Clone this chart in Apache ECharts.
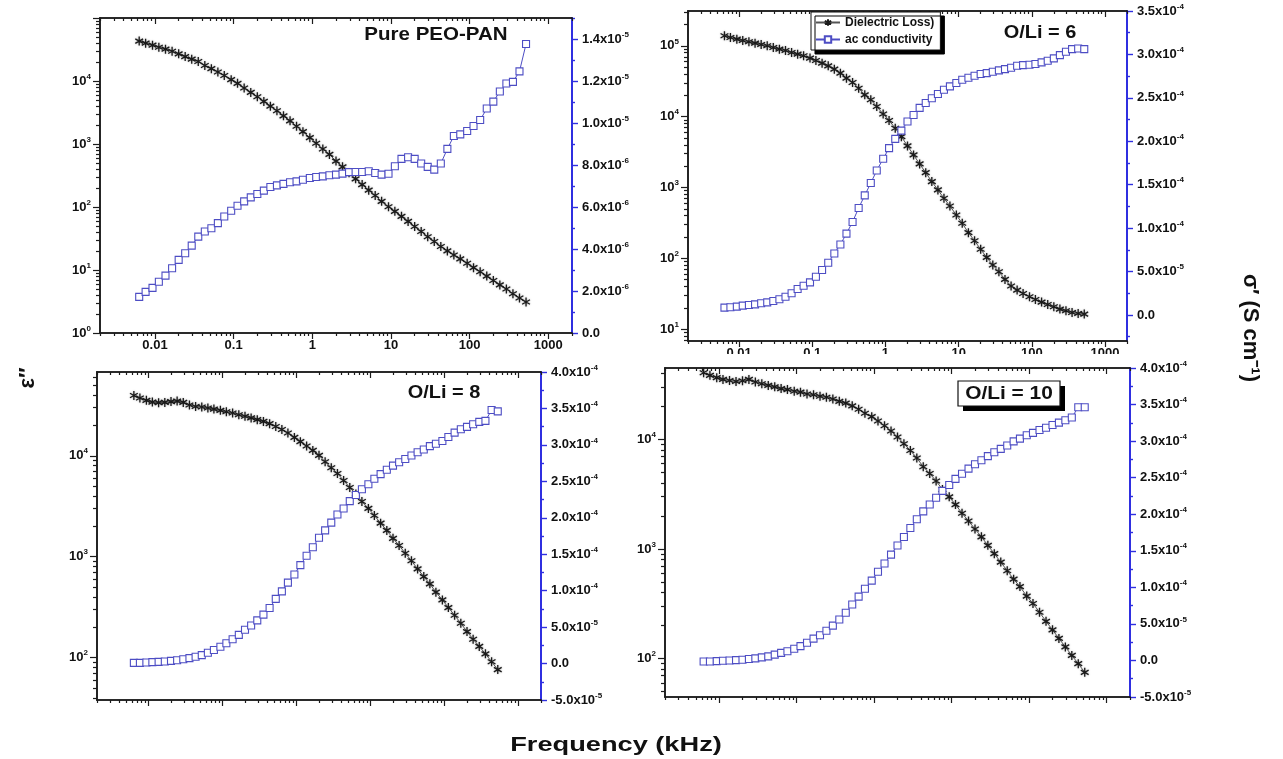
<!DOCTYPE html>
<html>
<head>
<meta charset="utf-8">
<title>Dielectric loss and ac conductivity vs frequency</title>
<script src="https://cdn.jsdelivr.net/npm/echarts@6/dist/echarts.min.js"></script>
<style>
  html, body { margin: 0; padding: 0; background: #fff; }
  #chart { width: 1283px; height: 759px; }
</style>
</head>
<body>
<div id="chart"></div>
<script>
// frequency in kHz, same sweep for all four samples
var freqKHz = [
  0.0063, 0.0076, 0.0093, 0.0112, 0.0136, 0.0165, 0.0200, 0.0242, 0.0293, 0.0355, 0.0430, 0.0521,
  0.063, 0.076, 0.093, 0.112, 0.136, 0.165, 0.200, 0.242, 0.293, 0.355, 0.430, 0.521,
  0.63, 0.76, 0.93, 1.12, 1.36, 1.65, 2.00, 2.42, 2.93, 3.55, 4.30, 5.21,
  6.3, 7.6, 9.3, 11.2, 13.6, 16.5, 20.0, 24.2, 29.3, 35.5, 43.0, 52.1,
  63, 76, 93, 112, 136, 165, 200, 242, 293, 355, 430, 521
];
var xTickValues = [0.01, 0.1, 1, 10, 100, 1000];

// Pure PEO-PAN
var pureLoss = [43000, 39900, 37100, 34400, 32000, 29700, 27000, 24400, 22200, 20400,
  17600, 15700, 13900, 12200, 10500, 9180, 7730, 6590, 5620, 4740,
  3990, 3370, 2800, 2330, 1910, 1570, 1260, 1030, 832, 684,
  536, 434, 349, 280, 227, 185, 152, 123, 101, 85.3,
  71.0, 59.0, 49.1, 40.9, 33.7, 28.3, 23.6, 20.1, 17.3, 15.0,
  12.8, 10.9, 9.4, 8.0, 6.8, 5.8, 5.0, 4.2, 3.6, 3.1];
var pureSigma = [1.72e-6, 1.96e-6, 2.15e-6, 2.44e-6, 2.73e-6, 3.08e-6, 3.48e-6, 3.80e-6, 4.16e-6, 4.59e-6,
  4.83e-6, 4.99e-6, 5.23e-6, 5.55e-6, 5.82e-6, 6.06e-6, 6.27e-6, 6.46e-6, 6.62e-6, 6.78e-6,
  6.95e-6, 7.03e-6, 7.10e-6, 7.18e-6, 7.22e-6, 7.30e-6, 7.38e-6, 7.43e-6, 7.46e-6, 7.51e-6,
  7.54e-6, 7.59e-6, 7.66e-6, 7.67e-6, 7.67e-6, 7.70e-6, 7.62e-6, 7.54e-6, 7.58e-6, 7.94e-6,
  8.29e-6, 8.37e-6, 8.29e-6, 8.07e-6, 7.91e-6, 7.78e-6, 8.07e-6, 8.77e-6, 9.38e-6, 9.46e-6,
  9.62e-6, 9.86e-6, 10.14e-6, 10.69e-6, 11.02e-6, 11.50e-6, 11.88e-6, 11.96e-6, 12.46e-6, 13.76e-6];

// O/Li = 6
var li6Loss = [138400, 131200, 124200, 118900, 114000, 109100, 104500, 100000, 94600, 89700,
  85900, 80500, 76200, 72300, 67000, 62100, 56900, 52100, 46800, 41100,
  34900, 30300, 25200, 20300, 17300, 13900, 10900, 8810, 6850, 5220,
  3860, 2880, 2150, 1620, 1210, 923, 703, 548, 408, 312,
  230, 177, 134, 103, 80.4, 64.6, 50.4, 40.6, 35.6, 31.9,
  28.6, 26.2, 24.1, 22.3, 20.7, 19.2, 18.2, 17.2, 16.6, 16.3];
var li6Sigma = [8.4e-6, 8.8e-6, 9.6e-6, 10.7e-6, 11.5e-6, 12.2e-6, 13.4e-6, 14.5e-6, 16.1e-6, 18.0e-6,
  21.0e-6, 24.9e-6, 29.8e-6, 33.7e-6, 37.5e-6, 44.0e-6, 51.7e-6, 60.1e-6, 70.8e-6, 81.1e-6,
  93.7e-6, 107.1e-6, 123.2e-6, 137.7e-6, 151.9e-6, 166.4e-6, 179.8e-6, 192.1e-6, 202.8e-6, 212.3e-6,
  222.7e-6, 230.3e-6, 238.4e-6, 244.1e-6, 249.5e-6, 254.4e-6, 259.4e-6, 263.2e-6, 267.1e-6, 270.9e-6,
  273.2e-6, 275.5e-6, 277.4e-6, 278.5e-6, 280.1e-6, 281.6e-6, 283.1e-6, 284.7e-6, 287.0e-6, 287.7e-6,
  288.1e-6, 288.9e-6, 290.8e-6, 292.7e-6, 295.4e-6, 299.2e-6, 303.0e-6, 306.1e-6, 306.8e-6, 306.1e-6];

// O/Li = 8
var li8Loss = [39600, 37300, 35400, 34000, 33600, 33800, 34400, 34800, 33800, 31800,
  30800, 30400, 29700, 29000, 28200, 27300, 26500, 25500, 24600, 23700,
  22800, 21900, 20800, 19500, 18200, 16800, 15200, 13800, 12500, 11300,
  10100, 8710, 7600, 6680, 5690, 4850, 4170, 3520, 3010, 2560,
  2150, 1820, 1520, 1290, 1080, 910, 757, 635, 538, 445,
  373, 313, 263, 219, 181, 152, 129, 109, 91, 76];
var li8Sigma = [0.9e-6, 0.9e-6, 1.4e-6, 1.9e-6, 2.3e-6, 2.8e-6, 3.7e-6, 4.6e-6, 6.0e-6, 7.4e-6,
  9.3e-6, 11.6e-6, 14.8e-6, 18.5e-6, 23.1e-6, 27.8e-6, 33.3e-6, 39.3e-6, 46.3e-6, 52.3e-6,
  59.2e-6, 67.1e-6, 76.3e-6, 88.8e-6, 99.0e-6, 111.0e-6, 122.1e-6, 135.1e-6, 148.0e-6, 159.6e-6,
  172.5e-6, 182.7e-6, 193.3e-6, 204.4e-6, 212.8e-6, 222.9e-6, 231.3e-6, 239.1e-6, 246.1e-6, 253.5e-6,
  259.9e-6, 265.9e-6, 271.5e-6, 276.1e-6, 280.7e-6, 285.4e-6, 290.0e-6, 293.7e-6, 298.3e-6, 301.6e-6,
  305.3e-6, 310.8e-6, 316.8e-6, 321.4e-6, 324.7e-6, 328.4e-6, 331.6e-6, 333.0e-6, 347.8e-6, 346.0e-6];

// O/Li = 10
var li10Loss = [40500, 38300, 36500, 35200, 34400, 33700, 34200, 35200, 33300, 32100,
  31000, 30100, 29000, 28400, 27400, 26900, 25900, 25500, 24700, 24200,
  23300, 22200, 21400, 20200, 18800, 17300, 16100, 14700, 13300, 11900,
  10500, 9120, 7910, 6760, 5620, 4880, 4170, 3490, 2990, 2540,
  2120, 1800, 1520, 1290, 1080, 906, 759, 634, 531, 454,
  372, 318, 265, 219, 183, 153, 128, 107, 90, 75];
var li10Sigma = [-1.4e-6, -1.4e-6, -0.9e-6, -0.5e-6, 0, 0.5e-6, 0.9e-6, 1.9e-6, 2.8e-6, 4.2e-6,
  5.6e-6, 7.9e-6, 10.3e-6, 12.6e-6, 15.9e-6, 19.6e-6, 24.3e-6, 29.9e-6, 34.5e-6, 40.6e-6,
  47.6e-6, 56.0e-6, 65.3e-6, 76.5e-6, 87.3e-6, 98.0e-6, 109.2e-6, 121.3e-6, 132.5e-6, 144.7e-6,
  157.3e-6, 168.9e-6, 181.1e-6, 193.2e-6, 203.9e-6, 213.3e-6, 222.6e-6, 231.9e-6, 239.9e-6, 248.3e-6,
  255.3e-6, 262.3e-6, 268.4e-6, 273.9e-6, 279.5e-6, 284.7e-6, 289.4e-6, 294.0e-6, 299.6e-6, 303.4e-6,
  308.0e-6, 311.3e-6, 315.1e-6, 318.3e-6, 322.0e-6, 325.3e-6, 328.6e-6, 332.3e-6, 346.3e-6, 346.3e-6];

var LOSS_NAME = 'Dielectric Loss)';
var SIGMA_NAME = 'ac conductivity';

// layout of the four panels (pixel boxes + axis ranges)
var panels = [
  { loss: pureLoss, sigma: pureSigma, box: [100, 18, 472, 315], lossRange: [1, 1e5],
    sigmaRange: [0, 1.5e-5], sigmaStep: 2e-6, showX: true },
  { loss: li6Loss, sigma: li6Sigma, box: [688, 11, 439, 330], lossRange: [6.8, 3.1e5],
    sigmaRange: [-3e-5, 3.5e-4], sigmaStep: 5e-5, showX: true },
  { loss: li8Loss, sigma: li8Sigma, box: [97, 372, 444, 328], lossRange: [38, 67600],
    sigmaRange: [-5e-5, 4e-4], sigmaStep: 5e-5, showX: false },
  { loss: li10Loss, sigma: li10Sigma, box: [665, 368, 465, 329], lossRange: [44.7, 44700],
    sigmaRange: [-5e-5, 4e-4], sigmaStep: 5e-5, showX: false }
];

var FONT = '"Liberation Sans", Arial, sans-serif';
var AXIS_BLACK = '#1c1c1c';
var AXIS_BLUE = '#2f2fe0';
var SQ_BLUE = '#4d4dc4';
var X_MIN = 0.002, X_MAX = 2000;
var STAR = 'path://M5 0L5 10M0.67 2.5L9.33 7.5M0.67 7.5L9.33 2.5';

// exponent drawn as a small raised rich-text token
function powLabel(v) {
  return '10{s|' + Math.round(Math.log10(v)) + '}';
}
function freqLabel(v) {
  var e = Math.round(Math.log10(v));
  return e < 0 ? v.toFixed(-e) : String(Math.round(v));
}
function sciLabel(v) {
  if (Math.abs(v) < 1e-12) return '0.0';
  var e = Math.floor(Math.log10(Math.abs(v)) + 1e-9);
  return (v / Math.pow(10, e)).toFixed(1) + 'x10{s|' + e + '}';
}
function powersIn(lo, hi) {
  var out = [];
  for (var e = Math.ceil(Math.log10(lo) - 1e-9); e <= Math.floor(Math.log10(hi) + 1e-9); e++) {
    out.push(Math.pow(10, e));
  }
  return out;
}
function minorsIn(lo, hi) {
  var out = [];
  for (var e = Math.floor(Math.log10(lo)); e <= Math.ceil(Math.log10(hi)); e++) {
    for (var k = 2; k <= 9; k++) {
      var v = k * Math.pow(10, e);
      if (v >= lo && v <= hi) out.push(v);
    }
  }
  return out;
}
function stepsIn(lo, hi, step, offset) {
  var out = [];
  for (var i = Math.floor(lo / step) - 1; i <= Math.ceil(hi / step) + 1; i++) {
    var v = parseFloat(((i + offset) * step).toPrecision(6));
    if (v >= lo - 1e-12 && v <= hi + 1e-12) out.push(v);
  }
  return out;
}

var labelFont = {
  fontFamily: FONT, fontWeight: 'bold', fontSize: 13, color: '#111', lineHeight: 17,
  rich: { s: { fontFamily: FONT, fontWeight: 'bold', fontSize: 8, color: '#111',
    lineHeight: 10, verticalAlign: 'top' } }
};

function logX(gi, pos, ticks, len, inside, labels) {
  return {
    type: 'log', logBase: 10, gridIndex: gi, position: pos, min: X_MIN, max: X_MAX,
    axisLine: { show: true, onZero: false, lineStyle: { color: AXIS_BLACK, width: 1.6 } },
    axisTick: { show: true, inside: inside, length: len, customValues: ticks,
      lineStyle: { color: AXIS_BLACK, width: 1.2 } },
    axisLabel: labels ? { show: true, customValues: labels, margin: 6, formatter: freqLabel,
      fontFamily: FONT, fontWeight: 'bold', fontSize: 13, color: '#111' } : { show: false },
    splitLine: { show: false }
  };
}
function logY(gi, range, ticks, len, labels) {
  return {
    type: 'log', logBase: 10, gridIndex: gi, position: 'left', min: range[0], max: range[1],
    axisLine: { show: true, onZero: false, lineStyle: { color: AXIS_BLACK, width: 1.6 } },
    axisTick: { show: true, inside: false, length: len, customValues: ticks,
      lineStyle: { color: AXIS_BLACK, width: 1.2 } },
    axisLabel: labels ? Object.assign({ show: true, customValues: labels, margin: 9,
      formatter: powLabel }, labelFont) : { show: false },
    splitLine: { show: false }
  };
}
function linY(gi, range, ticks, len, labels) {
  return {
    type: 'value', gridIndex: gi, position: 'right', min: range[0], max: range[1],
    axisLine: { show: true, onZero: false, lineStyle: { color: AXIS_BLUE, width: 2 } },
    axisTick: { show: true, inside: false, length: len, customValues: ticks,
      lineStyle: { color: AXIS_BLUE, width: 1.4 } },
    axisLabel: labels ? Object.assign({ show: true, customValues: labels, margin: 10,
      formatter: sciLabel }, labelFont) : { show: false },
    splitLine: { show: false }
  };
}

var grids = [], xAxes = [], yAxes = [], series = [];
var xMinor = minorsIn(X_MIN, X_MAX);

panels.forEach(function (p, k) {
  grids.push({ left: p.box[0], top: p.box[1], width: p.box[2], height: p.box[3] });

  xAxes.push(logX(k, 'bottom', xTickValues, 6, false, p.showX ? xTickValues : null));
  xAxes.push(logX(k, 'bottom', xMinor, 3, false, null));
  xAxes.push(logX(k, 'top', xTickValues, 6, true, null));
  xAxes.push(logX(k, 'top', xMinor, 3, true, null));

  var lossMajor = powersIn(p.lossRange[0], p.lossRange[1]);
  var lossLabels = lossMajor.filter(function (v) { return v < p.lossRange[1] * 0.999; });
  yAxes.push(logY(k, p.lossRange, lossMajor, 7, lossLabels));
  yAxes.push(logY(k, p.lossRange, minorsIn(p.lossRange[0], p.lossRange[1]), 4, null));

  var sMajor = stepsIn(p.sigmaRange[0], p.sigmaRange[1], p.sigmaStep, 0);
  var sMinor = stepsIn(p.sigmaRange[0], p.sigmaRange[1], p.sigmaStep, 0.5);
  yAxes.push(linY(k, p.sigmaRange, sMajor, 6, sMajor));
  yAxes.push(linY(k, p.sigmaRange, sMinor, 3, null));

  series.push({
    type: 'line', name: LOSS_NAME, xAxisIndex: k * 4, yAxisIndex: k * 4,
    data: freqKHz.map(function (f, i) { return [f, p.loss[i]]; }),
    symbol: STAR, symbolSize: 9, symbolKeepAspect: true,
    lineStyle: { color: '#555', width: 1 },
    itemStyle: { color: '#222', borderColor: '#1a1a1a', borderWidth: 1.3,
      shadowBlur: 2, shadowColor: 'rgba(0,0,0,0.35)' },
    emphasis: { disabled: true }, z: 3
  });
  series.push({
    type: 'line', name: SIGMA_NAME, xAxisIndex: k * 4, yAxisIndex: k * 4 + 2,
    data: freqKHz.map(function (f, i) { return [f, p.sigma[i]]; }),
    symbol: 'rect', symbolSize: 7,
    lineStyle: { color: SQ_BLUE, width: 1 },
    itemStyle: { color: '#fff', borderColor: SQ_BLUE, borderWidth: 1.1 },
    emphasis: { disabled: true }, z: 4
  });
});

function label(text, x, y, size, sx, rot) {
  return {
    type: 'text', x: x, y: y, scaleX: sx || 1, rotation: rot || 0, z: 60,
    style: { text: text, fontFamily: FONT, fontWeight: 'bold', fontSize: size, fill: '#111',
      align: 'center', verticalAlign: 'middle', textAlign: 'center', textVerticalAlign: 'middle' }
  };
}

var option = {
  animation: false,
  backgroundColor: '#fff',
  grid: grids,
  xAxis: xAxes,
  yAxis: yAxes,
  series: series,
  legend: {
    data: [LOSS_NAME, SIGMA_NAME], orient: 'vertical', left: 811, top: 12,
    itemWidth: 24, itemHeight: 8, itemGap: 2, padding: [3, 6, 3, 4],
    backgroundColor: '#fff', borderColor: '#111', borderWidth: 1,
    shadowColor: '#000', shadowOffsetX: 4, shadowOffsetY: 4, shadowBlur: 0,
    selectedMode: false,
    textStyle: { fontFamily: FONT, fontWeight: 'bold', fontSize: 12, color: '#111',
      lineHeight: 14, padding: [1, 0, 0, 0] }
  },
  graphic: [
    // lower half of the O/Li = 6 tick labels is hidden behind the next panel
    { type: 'rect', shape: { x: 620, y: 354, width: 510, height: 12 }, style: { fill: '#fff' }, z: 50 },
    label('Pure PEO-PAN', 436, 35, 18, 1.14),
    label('O/Li = 6', 1040, 33, 19, 1.05),
    label('O/Li = 8', 444, 393, 19, 1.05),
    { type: 'rect', shape: { x: 963, y: 386, width: 102, height: 25 }, style: { fill: '#000' }, z: 58 },
    { type: 'rect', shape: { x: 958, y: 381, width: 102, height: 25 },
      style: { fill: '#fff', stroke: '#111', lineWidth: 1.2 }, z: 59 },
    label('O/Li = 10', 1009, 394, 19, 1.1),
    label('\u03b5\u2033', 28, 378, 22, 1, Math.PI / 2),
    label('\u03c3\u2032 (S cm\u207b\u00b9)', 1250, 328, 22, 1, -Math.PI / 2),
    label('Frequency (kHz)', 616, 745, 20, 1.36)
  ]
};

var chart = echarts.init(document.getElementById('chart'));
chart.setOption(option);
</script>
</body>
</html>
